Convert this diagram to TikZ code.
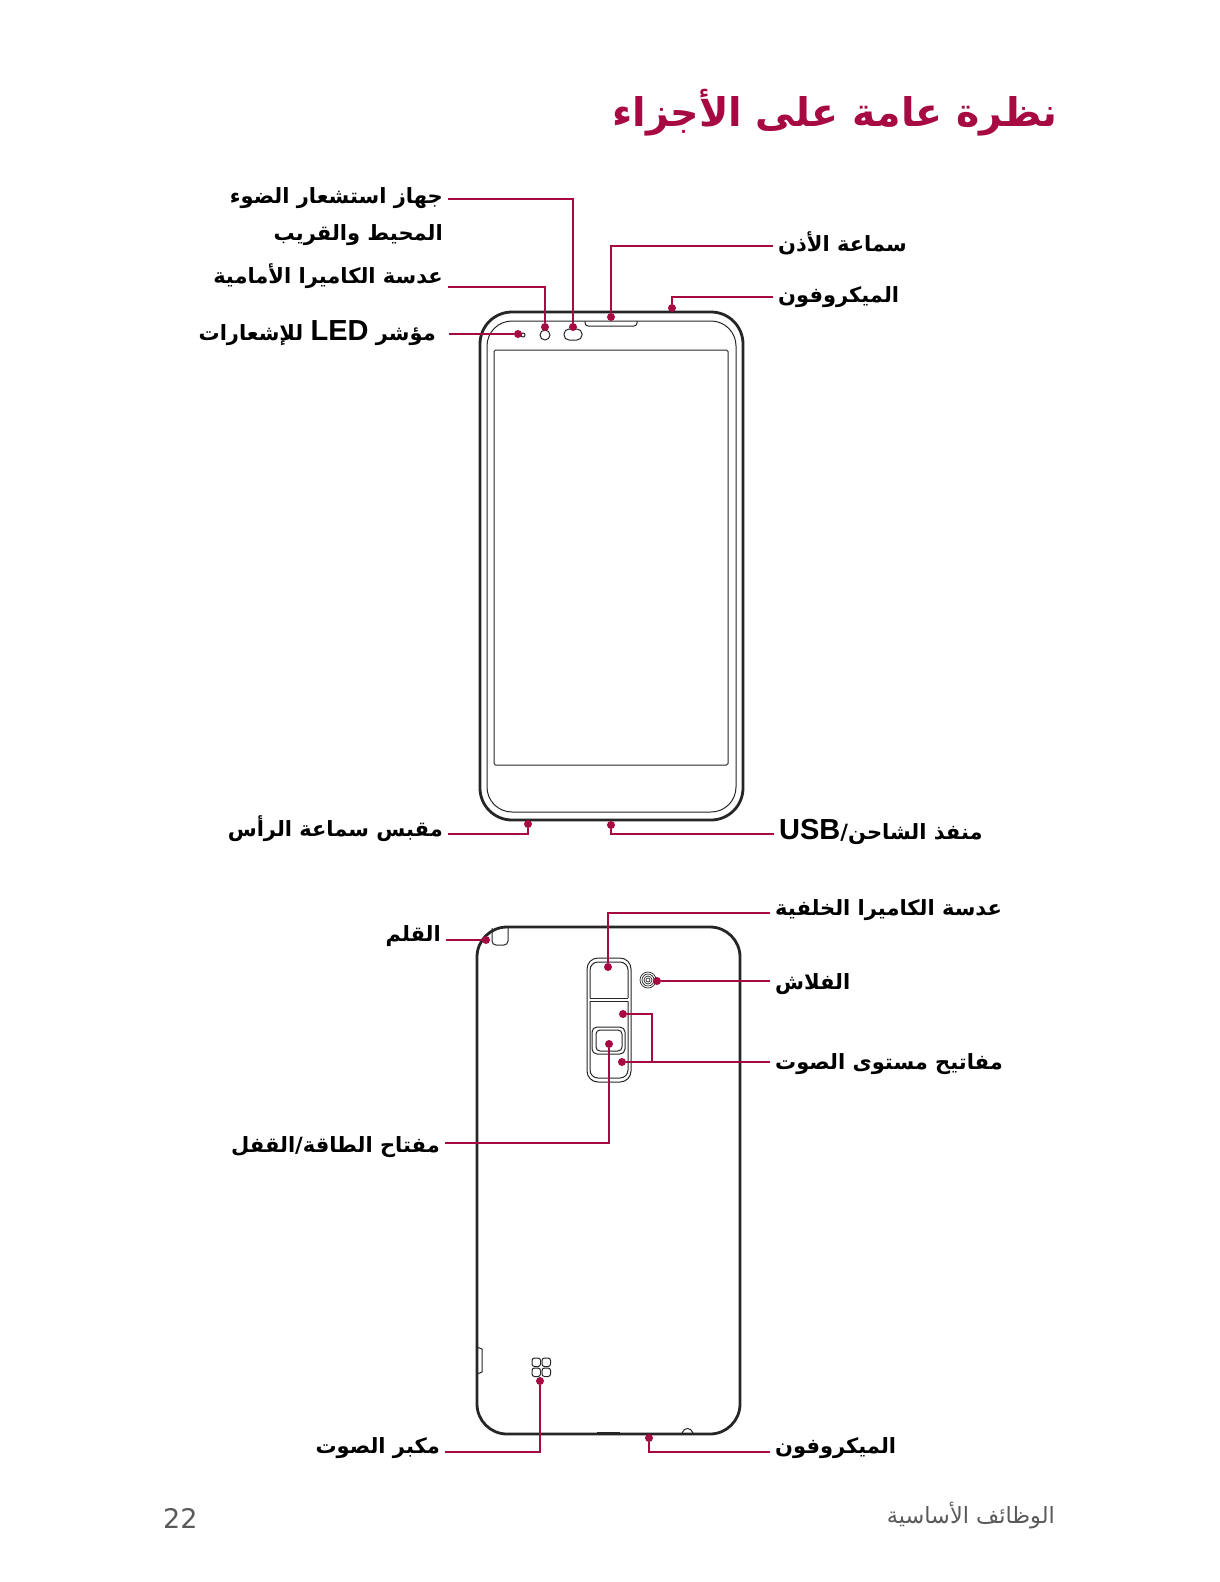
\documentclass[tikz,border=0pt]{standalone}
\usepackage{fontspec}
\usepackage{xcolor}
\usetikzlibrary{positioning}
\TeXXeTstate=1
\newfontfamily\arabicfont[Script=Arabic]{DejaVu Sans}
\newfontfamily\latinfont{Liberation Sans}
\newfontfamily\pagefont{DejaVu Sans}
\definecolor{LeadRed}{RGB}{167,9,67}
\definecolor{PageGray}{RGB}{90,90,90}
\newcommand{\ar}[1]{\beginR #1\endR}
\newcommand{\lat}[1]{\beginL{\latinfont\bfseries\fontsize{29}{30}\selectfont #1}\endL}
\begin{document}
\begin{tikzpicture}[
        x=1pt,y=-1pt,
        lblL/.style={anchor=east,inner xsep=5pt,inner ysep=0pt,text height=11pt,text depth=0pt,
                     font=\arabicfont\bfseries\fontsize{21}{24}\selectfont},
        lblR/.style={lblL,anchor=west},
        spot/.style={circle,fill=LeadRed,inner sep=0pt,minimum size=8pt},
        lead/.style={LeadRed,line width=1.3pt},
        body/.style={draw=black!85,line width=2.8pt},
        thin/.style={draw=black!85,line width=1pt}
      ]
        \useasboundingbox (0,0) rectangle (1219,1582);
        \node[anchor=east,inner sep=0pt,text=LeadRed,font=\arabicfont\bfseries\fontsize{39.5}{48}\selectfont] (title) at (1058,113) {\ar{نظرة عامة على الأجزاء}};
        % front
        \draw[body,rounded corners=32pt] (480,312) rectangle (743,820);
        \draw[thin,rounded corners=25pt] (487,321) rectangle (736,812);
        \draw[thin,rounded corners=1.5pt] (494,350) rectangle (728,765);
        \draw[thin,rounded corners=3pt] (585,321) -- (585,326) -- (637,326) -- (637,321);
        \draw[thin] (545,335) circle (5);
        \draw[thin,rounded corners=5pt] (564,329) rectangle (582,340);
        \draw[thin] (523,335) circle (2);
        \node[spot] (frontled) at (518,334) {};
        \node[spot] (frontcam) at (545,327) {};
        \node[spot] (sensor) at (573,327) {};
        \node[spot] (earpiece) at (611,317) {};
        \node[spot] (frontmic) at (672,308) {};
        \node[spot] (jack) at (528,824) {};
        \node[spot] (charger) at (611,825) {};
        \node[lblL] (lblsensor) at (448,198) {\ar{جهاز استشعار الضوء}};
        \node[lblL] (lblsensorb) at (448,235) {\ar{المحيط والقريب}};
        \node[lblL] (lblfrontcam) at (448,278) {\ar{عدسة الكاميرا الأمامية}};
        \node[lblL,inner xsep=13pt] (lblled) at (449,335) {\ar{مؤشر \lat{LED} للإشعارات}};
        \node[lblL] (lbljack) at (448,831) {\ar{مقبس سماعة الرأس}};
        \node[lblR] (lblearpiece) at (773,246) {\ar{سماعة الأذن}};
        \node[lblR] (lblfrontmic) at (773,297) {\ar{الميكروفون}};
        \node[lblR] (lblcharger) at (774,834) {\ar{منفذ الشاحن/\lat{USB}}};
        \draw[lead] ([yshift=-1pt]lblsensor.east) -| (sensor);
        \draw[lead] ([yshift=-9pt]lblfrontcam.east) -| (frontcam);
        \draw[lead] ([yshift=1pt]lblled.east) -- (frontled);
        \draw[lead] (lblearpiece.west) -| (earpiece);
        \draw[lead] (lblfrontmic.west) -| (frontmic);
        \draw[lead] ([yshift=-3pt]lbljack.east) -| (jack);
        \draw[lead] (lblcharger.west) -| (charger);
        % back
        \draw[body,rounded corners=30pt] (477,927) rectangle (740,1434);
        \draw[thin,rounded corners=4pt] (492,928) -- (492,945) -- (508,945) -- (508,928);
        \draw[thin] (477,1347) -- (482,1349) -- (482,1372) -- (477,1374);
        \draw[line width=2.8pt,black!85] (597,1433.5) -- (620,1433.5);
        \draw[thin] (682,1433) .. controls (684,1427) and (691,1427) .. (693,1433);
        \draw[thin,rounded corners=11pt] (587,958) rectangle (631,1082);
        \draw[thin,rounded corners=8pt] (590,998) -- (590,962) -- (628,962) -- (628,998);
        \draw[thin] (590,998) -- (628,998);
        \draw[thin,rounded corners=8pt] (590,1001) -- (590,1078) -- (628,1078) -- (628,1001);
        \draw[thin] (590,1001) -- (628,1001);
        \draw[thin,rounded corners=5pt] (592,1027) rectangle (625,1054);
        \draw[thin,rounded corners=4pt] (596,1030) rectangle (622,1051);
        \foreach \r in {2,4,6,8}
          \draw[black!85,line width=0.7pt] (648,980) circle (\r);
        \foreach \gx in {532,542}
          \foreach \gy in {1358,1368}
            \draw[thin,rounded corners=2.5pt] (\gx,\gy) rectangle +(8.5,8.5);
        \node[spot] (backcam) at (608,967) {};
        \node[spot] (flash) at (657,981) {};
        \node[spot] (volup) at (623,1014) {};
        \node[spot] (voldown) at (622,1062) {};
        \node[spot] (power) at (609,1044) {};
        \node[spot] (pen) at (486,940) {};
        \node[spot] (speaker) at (540,1381) {};
        \node[spot] (backmic) at (649,1438) {};
        \coordinate (volbend) at (652,1062);
        \node[lblL] (lblpen) at (446,936) {\ar{القلم}};
        \node[lblL] (lblpower) at (445,1147) {\ar{مفتاح الطاقة/القفل}};
        \node[lblL] (lblspeaker) at (445,1448) {\ar{مكبر الصوت}};
        \node[lblR] (lblbackcam) at (770,910) {\ar{عدسة الكاميرا الخلفية}};
        \node[lblR] (lblflash) at (770,984) {\ar{الفلاش}};
        \node[lblR] (lblvol) at (770,1064) {\ar{مفاتيح مستوى الصوت}};
        \node[lblR] (lblbackmic) at (770,1448) {\ar{الميكروفون}};
        \draw[lead] ([yshift=-3pt]lblbackcam.west) -| (backcam);
        \draw[lead] ([yshift=3pt]lblflash.west) -- (flash);
        \draw[lead] ([yshift=2pt]lblvol.west) -- (voldown);
        \draw[lead] (volup) -| (volbend);
        \draw[lead] ([yshift=-4pt]lblpen.east) -- (pen);
        \draw[lead] ([yshift=4pt]lblpower.east) -| (power);
        \draw[lead] ([yshift=-4pt]lblspeaker.east) -| (speaker);
        \draw[lead] ([yshift=-4pt]lblbackmic.west) -| (backmic);
        % page foot
        \node[anchor=west,inner sep=0pt,text=PageGray,font=\pagefont\fontsize{27}{30}\selectfont] (pageno) at (163,1518) {22};
        \node[anchor=east,inner sep=0pt,text=PageGray,font=\arabicfont\fontsize{22.4}{24}\selectfont] (section) at (1055,1516) {\ar{الوظائف الأساسية}};
      \end{tikzpicture}
\end{document}
